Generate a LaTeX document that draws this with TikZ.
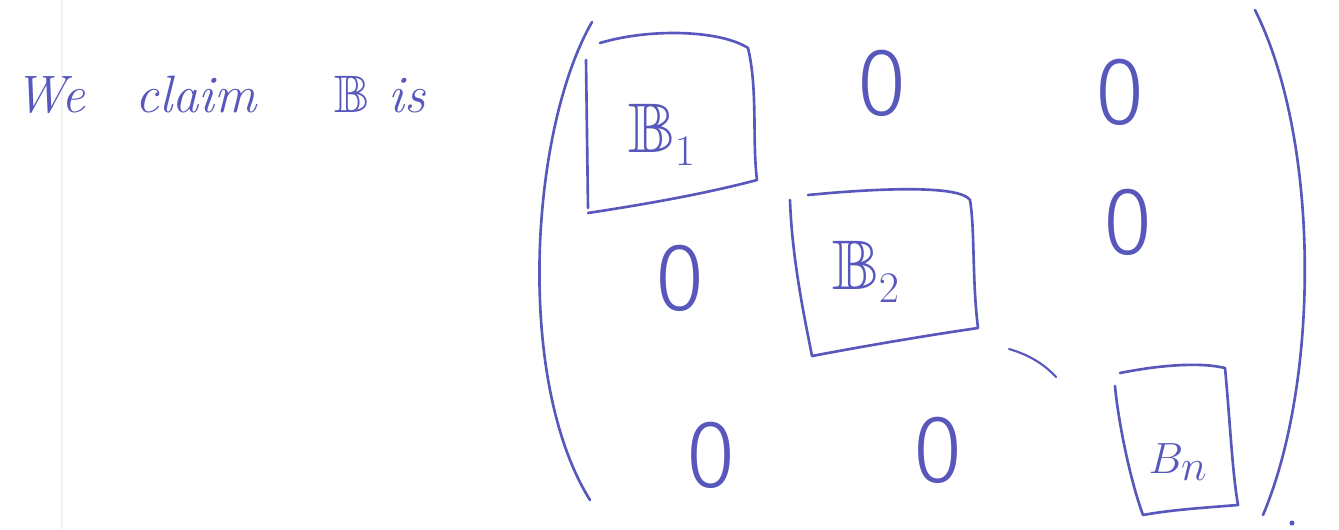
\documentclass[tikz,border=0pt]{standalone}
\usepackage{amssymb}
\usepackage{fontspec}
\newfontfamily\zerofont{Fira Sans Light}
\definecolor{ink}{RGB}{88,88,188}
\newcommand{\zr}{\scalebox{1.2}[1.25]{0}}
\begin{document}
\begin{tikzpicture}[x=0.02cm,y=-0.02cm,
  stroke/.style={draw=ink,line width=1.5pt,line cap=round,line join=round},
  hand/.style={text=ink,inner sep=0pt,anchor=base,font=\fontsize{30}{34}\selectfont\itshape},
  zero/.style={text=ink,inner sep=0pt,font=\fontsize{44}{44}\selectfont\zerofont},
  blk/.style={text=ink,inner sep=0pt,font=\fontsize{40}{44}\selectfont}]
\useasboundingbox (0,0) rectangle (1339,529);
\draw[black!6,line width=0.6pt] (62,0) -- (62,529);
% header text
\node[hand] (we) at (50,112) {We};
\node[hand] (claim) at (196,112) {claim};
\node[hand] (bis) at (380,112) {$\mathbb{B}$ is};
% parentheses
\draw[stroke] (592,22) .. controls (530,130) and (515,380) .. (590,500);
\draw[stroke] (1255,10) .. controls (1320,140) and (1320,380) .. (1263,515);
% block B1
\draw[stroke] (600,43) .. controls (650,28) and (720,30) .. (748,48) .. controls (758,90) and (752,140) .. (757,180)
  .. controls (700,195) and (640,205) .. (588,213);
\draw[stroke] (586,60) -- (588,208);
\node[blk] (b1) at (662,135) {$\mathbb{B}_1$};
% block B2
\draw[stroke] (790,200) .. controls (792,260) and (805,320) .. (812,356)
  .. controls (870,345) and (930,335) .. (978,328) .. controls (972,280) and (975,230) .. (970,200)
  .. controls (960,185) and (880,188) .. (808,195);
\node[blk] (b2) at (866,272) {$\mathbb{B}_2$};
% dots
\draw[stroke,line width=1.2pt] (1009,349) .. controls (1030,355) and (1045,365) .. (1056,377);
% block Bn
\draw[stroke] (1120,373) .. controls (1160,365) and (1200,362) .. (1225,368)
  .. controls (1230,420) and (1232,470) .. (1238,505)
  .. controls (1200,508) and (1170,510) .. (1143,515)
  .. controls (1130,480) and (1118,420) .. (1115,386);
\node[blk,font=\fontsize{36}{40}\selectfont] (bn) at (1178,462) {$B_n$};
% zeros
\node[zero] (z12) at (882,83) {\zr};
\node[zero] (z13) at (1120,92) {\zr};
\node[zero] (z21) at (680,278) {\zr};
\node[zero] (z23) at (1128,222) {\zr};
\node[zero] (z31) at (711,455) {\zr};
\node[zero] (z32) at (938,450) {\zr};
\fill[ink] (1292,523) circle (2.5);
\end{tikzpicture}
\end{document}
